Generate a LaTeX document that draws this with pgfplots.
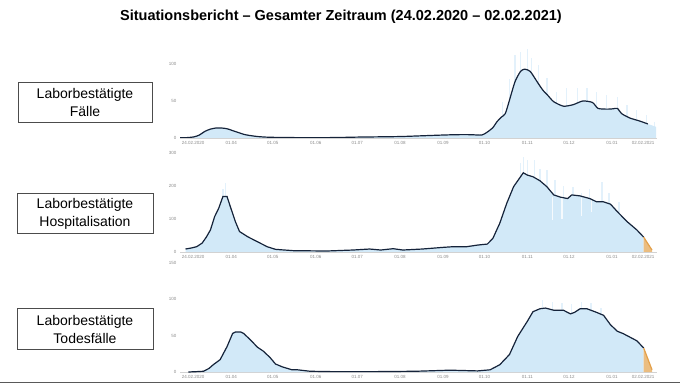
\documentclass[border=0pt]{standalone}
\usepackage{pgfplots}
\pgfplotsset{compat=1.18}
\usepackage{fontspec}
\setmainfont{Liberation Sans}
\definecolor{navy}{HTML}{15233A}
\definecolor{fillb}{HTML}{D2E9F8}
\definecolor{spike}{HTML}{E3F1FB}
\definecolor{orng}{HTML}{E3A04A}
\definecolor{tickc}{HTML}{8A8A8A}
\pgfplotsset{panel/.style={
  scale only axis, width=477pt, xmin=0, xmax=344.6, ymin=0, enlargelimits=false,
  axis x line=bottom, axis y line=left,
  y axis line style={draw=none},
  x axis line style={draw=gray!35, line width=0.6pt, -},
  major tick length=0pt, tick style={draw=none},
  xtick={9.4,37,67,98,128,159,190,220,251,281,312,334.5},
  xticklabels={24.02.2020,01.04,01.05,01.06,01.07,01.08,01.09,01.10,01.11,01.12,01.01,02.02.2021},
  ticklabel style={font=\fontsize{4.5}{5}\selectfont, text=tickc},
  /pgf/number format/assume math mode=true,
  unbounded coords=jump,
  anchor=south west,
}}
\begin{document}
\begin{tikzpicture}
\useasboundingbox (0,0) rectangle (680pt,383pt);
% title
\node[font=\fontsize{14.5}{17}\selectfont\bfseries] at (341pt,366pt) {Situationsbericht – Gesamter Zeitraum (24.02.2020 – 02.02.2021)};
% boxes
\draw[draw=black!70, line width=0.7pt] (18pt,261pt) rectangle (152pt,301pt);
\node[font=\fontsize{14}{18}\selectfont, align=center] at (85pt,281pt) {Laborbestätigte\\Fälle};
\draw[draw=black!70, line width=0.7pt] (17pt,150pt) rectangle (153pt,190pt);
\node[font=\fontsize{14}{18}\selectfont, align=center] at (85pt,169pt) {Laborbestätigte\\Hospitalisation};
\draw[draw=black!70, line width=0.7pt] (17pt,34pt) rectangle (153pt,75pt);
\node[font=\fontsize{14}{18}\selectfont, align=center] at (85pt,54pt) {Laborbestätigte\\Todesfälle};
% panel 1
\begin{axis}[panel, at={(180pt,245pt)}, height=88.8pt, ymax=120, ytick={0,50,100}]
\addplot[spike, line width=1.4pt] coordinates {(233,0)(233,49)(233,nan)(238,0)(238,80)(238,nan)(242,0)(242,112)(242,nan)(246,0)(246,116)(246,nan)(251,0)(251,121)(251,nan)(254,0)(254,108)(254,nan)(259,0)(259,99)(259,nan)(265,0)(265,81)(265,nan)(272,0)(272,62)(272,nan)(279,0)(279,67)(279,nan)(287,0)(287,67)(287,nan)(294,0)(294,67)(294,nan)(301,0)(301,62)(301,nan)(308,0)(308,58)(308,nan)(316,0)(316,55)(316,nan)(323,0)(323,45)(323,nan)(330,0)(330,38)(330,nan)(337,0)(337,31)(337,nan)(343,0)(343,22)};
\addplot[fill=fillb, draw=none] coordinates {(0,0.3)(5,0.5)(10,1.5)(14,4)(18,9)(22,12)(26,13.5)(30,13.5)(34,12.5)(38,10)(42,7.5)(46,5)(50,3.5)(56,2)(62,1.2)(70,0.8)(85,0.5)(100,0.4)(115,0.7)(128,1.2)(145,1.6)(160,2)(175,3)(190,4)(200,4.5)(210,4.5)(218,4)(222,8)(226,14)(229,22)(232,28)(235,33)(238,51)(242,76)(246,90)(249,93)(253,90)(258,76)(262,65)(266,57)(270,49)(277,43)(284,45)(291,50)(298,48)(302,40)(309,39)(313,39.5)(316,40)(319,33)(325,27)(332,23)(338,19)(344,15)} \closedcycle;
\addplot[navy, line width=1.2pt, smooth, tension=0.4] coordinates {(0,0.3)(5,0.5)(10,1.5)(14,4)(18,9)(22,12)(26,13.5)(30,13.5)(34,12.5)(38,10)(42,7.5)(46,5)(50,3.5)(56,2)(62,1.2)(70,0.8)(85,0.5)(100,0.4)(115,0.7)(128,1.2)(145,1.6)(160,2)(175,3)(190,4)(200,4.5)(210,4.5)(218,4)(222,8)(226,14)(229,22)(232,28)(235,33)(238,51)(242,76)(246,90)(249,93)(253,90)(258,76)(262,65)(266,57)(270,49)(277,43)(284,45)(291,50)(298,48)(302,40)(309,39)(313,39.5)(316,40)(319,33)(325,27)(332,23)(338,19)};
\end{axis}
% panel 2
\begin{axis}[panel, at={(180pt,131pt)}, height=99pt, ymax=300, ytick={0,100,200,300}]
\addplot[spike, line width=1.4pt] coordinates {(31,0)(31,190)(31,nan)(33,0)(33,209)(33,nan)(246,0)(246,270)(246,nan)(248,0)(248,288)(248,nan)(251,0)(251,279)(251,nan)(256,0)(256,279)(256,nan)(260,0)(260,250)(260,nan)(265,0)(265,248)(265,nan)(271,0)(271,218)(271,nan)(277,0)(277,200)(277,nan)(284,0)(284,198)(284,nan)(290,0)(290,180)(290,nan)(296,0)(296,190)(296,nan)(305,0)(305,213)(305,nan)(310,0)(310,178)(310,nan)(317,0)(317,150)};
\addplot[fill=fillb, draw=none] coordinates {(4,9)(8,12)(12,16)(16,27)(19,45)(22,67)(25,107)(28,133)(31,168)(34,168)(36,142)(40,92)(43,62)(49,46)(56,31)(63,16)(69,8)(82,4)(106,3)(125,6)(137,9)(145,6)(154,10)(161,6)(175,9)(190,14)(197,16)(207,16)(215,21)(222,24)(226,41)(231,87)(236,147)(241,198)(246,228)(248,240)(251,233)(255,228)(260,216)(265,198)(270,173)(275,166)(280,162)(283,173)(289,170)(296,162)(301,152)(306,152)(311,145)(316,122)(323,92)(330,67)(335,45)} \closedcycle;
\addplot[fill=orng!70, draw=none] coordinates {(335,45)(338,25)(341,6)} \closedcycle;
\addplot[white, opacity=0.8, line width=1.2pt] coordinates {(269,97)(269,166)(269,nan)(276,100)(276,163)(276,nan)(290,110)(290,165)(290,nan)(297,120)(297,158)};
\addplot[navy, line width=1.2pt] coordinates {(4,9)(8,12)(12,16)(16,27)(19,45)(22,67)(25,107)(28,133)(31,168)(34,168)(36,142)(40,92)(43,62)(49,46)(56,31)(63,16)(69,8)(82,4)(106,3)(125,6)(137,9)(145,6)(154,10)(161,6)(175,9)(190,14)(197,16)(207,16)(215,21)(222,24)(226,41)(231,87)(236,147)(241,198)(246,228)(248,240)(251,233)(255,228)(260,216)(265,198)(270,173)(275,166)(280,162)(283,173)(289,170)(296,162)(301,152)(306,152)(311,145)(316,122)(323,92)(330,67)(335,45)};
\addplot[orng, line width=1.2pt] coordinates {(335,45)(338,25)(341,6)};
\end{axis}
% panel 3
\begin{axis}[panel, at={(180pt,11pt)}, height=109pt, ymax=150, ytick={0,50,100,150}]
\addplot[spike, line width=1.4pt] coordinates {(262,0)(262,99)(262,nan)(269,0)(269,97)(269,nan)(276,0)(276,95)(276,nan)(283,0)(283,93)(283,nan)(290,0)(290,97)(290,nan)(297,0)(297,95)(297,nan)(304,0)(304,88)};
\addplot[fill=fillb, draw=none] coordinates {(6,0)(12,0.5)(17,1)(21,5)(24,10)(29,17)(34,35)(38,53)(40,55)(42,55)(44,55)(46,53)(51,44)(56,34)(60,29)(65,20)(69,11)(74,7)(81,3)(85,3)(94,1)(110,0.5)(140,0.5)(170,1)(195,2.5)(205,2)(215,1.5)(224,3)(231,10)(238,24)(244,49)(251,70)(255,83)(260,87)(264,88)(270,85)(277,85)(282,80)(285,82)(289,87)(294,87)(301,82)(306,78)(311,65)(316,56)(320,53)(325,48)(330,43)(335,33)} \closedcycle;
\addplot[fill=orng!70, draw=none] coordinates {(335,33)(338,18)(341,3)} \closedcycle;
\addplot[navy, line width=1.2pt] coordinates {(6,0)(12,0.5)(17,1)(21,5)(24,10)(29,17)(34,35)(38,53)(40,55)(42,55)(44,55)(46,53)(51,44)(56,34)(60,29)(65,20)(69,11)(74,7)(81,3)(85,3)(94,1)(110,0.5)(140,0.5)(170,1)(195,2.5)(205,2)(215,1.5)(224,3)(231,10)(238,24)(244,49)(251,70)(255,83)(260,87)(264,88)(270,85)(277,85)(282,80)(285,82)(289,87)(294,87)(301,82)(306,78)(311,65)(316,56)(320,53)(325,48)(330,43)(335,33)};
\addplot[orng, line width=1.2pt] coordinates {(335,33)(338,18)(341,3)};
\end{axis}
\fill[black!65] (0,0) rectangle (680pt,1.5pt);
\end{tikzpicture}
\end{document}
